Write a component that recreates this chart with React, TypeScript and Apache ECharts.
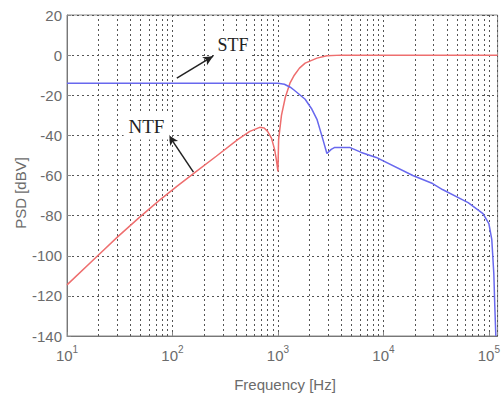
import React, { useEffect, useRef } from "react";
import * as echarts from "echarts";

// Frequency (Hz) / PSD (dBV)
const ntfFreq = [10, 20, 30, 48, 75, 110, 158, 260, 418, 541, 671, 740, 798, 870, 929, 965, 1000, 1015, 1080, 1175, 1300, 1429, 1600, 1811, 2344, 2912, 4000, 121000];
const ntfDb = [-114.5, -99.5, -90.7, -81.1, -72.4, -65.4, -59.1, -50.4, -42, -38, -36, -36.3, -38, -41.5, -47, -52, -58, -42, -30, -21, -14, -10, -6.5, -4, -1.5, -0.3, 0, 0];

const stfFreq = [10, 500, 1000, 1151, 1309, 1429, 1811, 2100, 2344, 2668, 2912, 3200, 3458, 4779, 6171, 8545, 19000, 29270, 36300, 55900, 63600, 87900, 100000, 106600, 111400, 113800, 116400];
const stfDb = [-14, -14, -14, -14.5, -16, -17.5, -22, -27, -32, -42, -49, -47, -46, -46, -48.5, -51, -60, -64, -67, -72, -73.5, -79, -84, -92, -109, -125, -140];

const yTicks = { min: -140, max: 20, interval: 20 };
const xRange = { min: 10, max: 121000 };
const decades = [10, 100, 1000, 10000];
const minorMultipliers = [2, 3, 4, 5, 6, 7, 8, 9];

// annotation arrows (data space): [tailFreq, tailDb, headFreq, headDb]
const stfArrow = [110, -11.5, 243, -0.5];
const ntfArrow = [158, -58.3, 92, -39.9];

const gridLine = { color: "#555", width: 1, type: [2, 3] as number[] };
const tickColor = "#6b6b6b";

export default function App() {
  const ref = useRef<HTMLDivElement>(null);
  useEffect(() => {
    if (!ref.current) return;
    const chart = echarts.init(ref.current, undefined, { renderer: "svg" });
    const minorLines: any[] = [];
    decades.forEach((d) => minorMultipliers.forEach((m) => minorLines.push({ xAxis: d * m })));

    const option: any = {
      animation: false,
      backgroundColor: "#fff",
      grid: { left: 67, right: 0, top: 15, bottom: 58, show: true, borderColor: "#888", borderWidth: 1, backgroundColor: "transparent" },
      xAxis: {
        type: "log",
        logBase: 10,
        min: xRange.min,
        max: xRange.max,
        axisLine: { show: true, onZero: false, lineStyle: { color: "#777" } },
        axisTick: { show: true, inside: true, length: 4, lineStyle: { color: "#888" } },
        splitLine: { show: true, lineStyle: gridLine },
        axisLabel: {
          showMaxLabel: false,
          margin: 8,
          formatter: (v: number) => {
            const l = Math.log10(v);
            const e = Math.round(l);
            if (Math.abs(l - e) > 1e-6) return "";
            return `{b|10}{s|${e}}`;
          },
          rich: {
            b: { fontSize: 15, fontFamily: "Liberation Sans", color: tickColor, lineHeight: 22 },
            s: { fontSize: 10, fontFamily: "Liberation Sans", color: tickColor, lineHeight: 10, verticalAlign: "top" },
          },
        },
      },
      yAxis: {
        type: "value",
        min: yTicks.min,
        max: yTicks.max,
        interval: yTicks.interval,
        axisLine: { show: true, onZero: false, lineStyle: { color: "#777" } },
        axisTick: { show: true, inside: true, length: 4, lineStyle: { color: "#888" } },
        splitLine: { show: true, lineStyle: gridLine },
        axisLabel: { fontSize: 15, fontFamily: "Liberation Sans", color: tickColor, margin: 5 },
      },
      series: [
        {
          name: "grid",
          type: "line",
          data: [],
          silent: true,
          markLine: {
            silent: true,
            z: 1,
            symbol: ["none", "none"],
            label: { show: false },
            lineStyle: gridLine,
            emphasis: { disabled: true },
            data: minorLines,
          },
        },
        {
          name: "NTF",
          type: "line",
          showSymbol: false,
          symbol: "none",
          data: ntfFreq.map((f, i) => [f, ntfDb[i]]),
          lineStyle: { color: "#ee6e6e", width: 1.5 },
          z: 3,
        },
        {
          name: "STF",
          type: "line",
          showSymbol: false,
          symbol: "none",
          data: stfFreq.map((f, i) => [f, stfDb[i]]),
          lineStyle: { color: "#6868ee", width: 1.5 },
          z: 3,
        },
        {
          name: "arrows",
          type: "line",
          data: [],
          silent: true,
          markLine: {
            silent: true,
            z: 6,
            symbol: ["none", "arrow"],
            symbolSize: [7, 10],
            label: { show: false },
            lineStyle: { color: "#222", width: 1.5, type: "solid" },
            emphasis: { disabled: true },
            data: [
              [{ coord: [stfArrow[0], stfArrow[1]] }, { coord: [stfArrow[2], stfArrow[3]] }],
              [{ coord: [ntfArrow[0], ntfArrow[1]] }, { coord: [ntfArrow[2], ntfArrow[3]] }],
            ],
          },
        },
      ],
      graphic: [
        {
          type: "text",
          z: 100,
          x: 233,
          y: 45,
          style: {
            text: "STF",
            font: "18px 'Liberation Serif'",
            fill: "#222",
            textAlign: "center",
            textVerticalAlign: "middle",
            align: "center",
            verticalAlign: "middle",
            backgroundColor: "#fff",
            padding: [2, 3],
          },
        },
        {
          type: "text",
          z: 100,
          x: 146.5,
          y: 126,
          style: {
            text: "NTF",
            font: "19px 'Liberation Serif'",
            fill: "#222",
            textAlign: "center",
            textVerticalAlign: "middle",
            align: "center",
            verticalAlign: "middle",
            backgroundColor: "#fff",
            padding: [4, 5],
          },
        },
        {
          type: "text",
          z: 100,
          x: 20,
          y: 193,
          rotation: Math.PI / 2,
          style: {
            text: "PSD [dBV]",
            font: "15px 'Liberation Sans'",
            fill: tickColor,
            textAlign: "center",
            textVerticalAlign: "middle",
            align: "center",
            verticalAlign: "middle",
          },
        },
        {
          type: "text",
          z: 100,
          x: 285,
          y: 384,
          style: {
            text: "Frequency [Hz]",
            font: "15px 'Liberation Sans'",
            fill: tickColor,
            textAlign: "center",
            textVerticalAlign: "middle",
            align: "center",
            verticalAlign: "middle",
          },
        },
      ],
    };
    chart.setOption(option);
    return () => chart.dispose();
  }, []);
  return <div ref={ref} style={{ position: "fixed", left: 0, top: 0, width: 503, height: 394 }} />;
}
